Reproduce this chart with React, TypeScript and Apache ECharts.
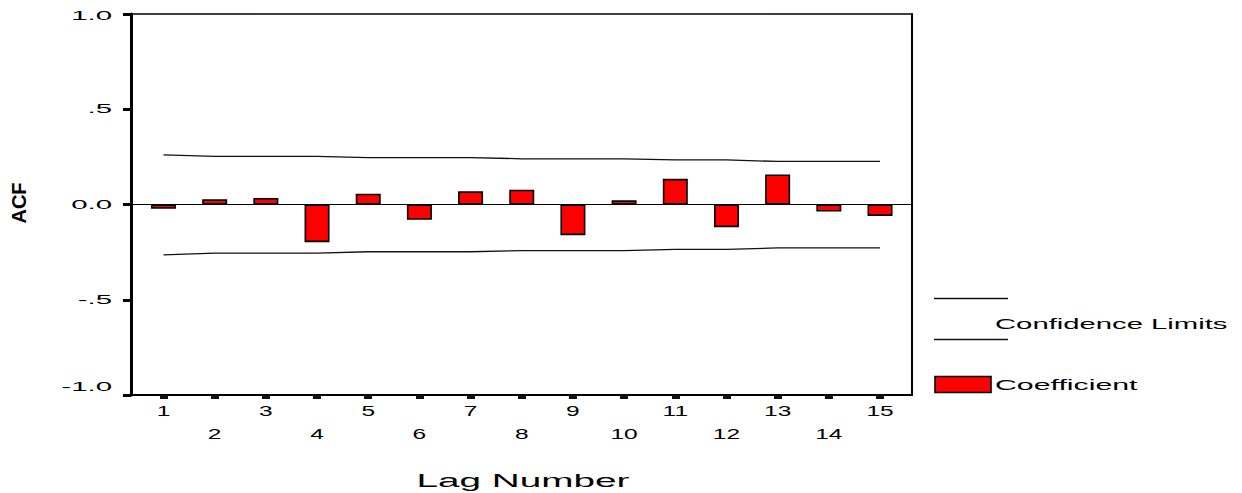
import React, { useEffect, useRef } from "react";
import * as echarts from "echarts";

const lags = [1, 2, 3, 4, 5, 6, 7, 8, 9, 10, 11, 12, 13, 14, 15];
const coefficients = [-0.022, 0.027, 0.034, -0.198, 0.057, -0.08, 0.069, 0.078, -0.161, 0.022, 0.135, -0.119, 0.158, -0.037, -0.06];
const upperLimits = [0.261, 0.253, 0.253, 0.253, 0.246, 0.246, 0.246, 0.24, 0.24, 0.24, 0.234, 0.234, 0.226, 0.226, 0.226];
const lowerLimits = [-0.264, -0.255, -0.255, -0.255, -0.248, -0.248, -0.248, -0.242, -0.242, -0.242, -0.236, -0.236, -0.228, -0.228, -0.228];
const yTickValues = [-1, -0.5, 0, 0.5, 1];
const yTickLabels = ["-1.0", "-.5", "0.0", ".5", "1.0"];
const xTickLabels = ["1", "2", "3", "4", "5", "6", "7", "8", "9", "10", "11", "12", "13", "14", "15"];
const yTitle = "ACF";
const xTitle = "Lag Number";
const legendLines = "Confidence Limits";
const legendBars = "Coefficient";

const FONT = "'Liberation Sans', Arial, Helvetica, sans-serif";
const X_MIN = 0.365;
const X_MAX = 15.625;

function txt(x: number, y: number, text: string, opts: any = {}) {
  const align = opts.align || "center";
  const va = opts.va || "middle";
  return {
    type: "text",
    x,
    y,
    scaleX: opts.scaleX || 1,
    scaleY: opts.scaleY || 1,
    rotation: opts.rotation || 0,
    silent: true,
    style: {
      text,
      x: 0,
      y: 0,
      fill: "#000",
      fontSize: opts.fontSize || 14,
      fontFamily: FONT,
      fontWeight: opts.fontWeight || "normal",
      align,
      textAlign: align,
      verticalAlign: va,
      textVerticalAlign: va,
    },
  };
}

export default function App() {
  const ref = useRef<HTMLDivElement>(null);

  useEffect(() => {
    document.body.style.margin = "0";
    const chart = echarts.init(ref.current as HTMLDivElement, null, { renderer: "svg" });

    const option: any = {
      animation: false,
      backgroundColor: "#fff",
      grid: { left: 131, top: 14, width: 781, height: 381, containLabel: false },
      xAxis: [
        {
          type: "value",
          min: X_MIN,
          max: X_MAX,
          position: "bottom",
          axisLine: { show: true, onZero: false, lineStyle: { color: "#000", width: 2 } },
          axisTick: {
            show: true,
            customValues: lags,
            length: 4,
            inside: false,
            lineStyle: { color: "#111", width: 8 },
          },
          axisLabel: { show: false },
          splitLine: { show: false },
        },
        {
          type: "value",
          min: X_MIN,
          max: X_MAX,
          position: "top",
          axisLine: { show: true, onZero: false, lineStyle: { color: "#000", width: 1.5 } },
          axisTick: { show: false },
          axisLabel: { show: false },
          splitLine: { show: false },
        },
      ],
      yAxis: [
        {
          type: "value",
          min: -1,
          max: 1,
          interval: 0.5,
          position: "left",
          axisLine: { show: true, onZero: false, lineStyle: { color: "#000", width: 3 } },
          axisTick: { show: true, length: 8, inside: false, lineStyle: { color: "#000", width: 3 } },
          axisLabel: { show: false },
          splitLine: { show: false },
        },
        {
          type: "value",
          min: -1,
          max: 1,
          position: "right",
          axisLine: { show: true, onZero: false, lineStyle: { color: "#000", width: 2 } },
          axisTick: { show: false },
          axisLabel: { show: false },
          splitLine: { show: false },
        },
      ],
      series: [
        {
          name: legendLines,
          type: "line",
          xAxisIndex: 0,
          yAxisIndex: 0,
          data: lags.map((l, i) => [l, upperLimits[i]]),
          symbol: "none",
          lineStyle: { color: "#111", width: 1.3 },
          silent: true,
        },
        {
          name: legendLines + " lower",
          type: "line",
          xAxisIndex: 0,
          yAxisIndex: 0,
          data: lags.map((l, i) => [l, lowerLimits[i]]),
          symbol: "none",
          lineStyle: { color: "#111", width: 1.3 },
          silent: true,
        },
        {
          name: legendBars,
          type: "bar",
          xAxisIndex: 0,
          yAxisIndex: 0,
          data: lags.map((l, i) => [l, coefficients[i]]),
          barWidth: 25,
          itemStyle: { color: "#ff0000", borderColor: "#000", borderWidth: 1.6 },
          silent: true,
          markLine: {
            silent: true,
            symbol: ["none", "none"],
            label: { show: false },
            lineStyle: { color: "#000", width: 1.2, type: "solid" },
            data: [{ yAxis: 0 }],
          },
        },
      ],
    };

    chart.setOption(option);

    const px = (v: number) => chart.convertToPixel({ xAxisIndex: 0 }, v) as number;
    const py = (v: number) => chart.convertToPixel({ yAxisIndex: 0 }, v) as number;

    const elements: any[] = [];

    // y tick labels
    yTickValues.forEach((v, i) => {
      const shift = v === -1 ? -8 : v === 1 ? 1.5 : 0;
      elements.push(txt(112, py(v) + shift, yTickLabels[i], { align: "right", fontSize: 12, scaleX: 2.45 }));
    });

    // x tick labels, staggered
    lags.forEach((l, i) => {
      const row = l % 2 === 1 ? 411 : 434;
      elements.push(txt(px(l), row, xTickLabels[i], { fontSize: 14, scaleX: 1.75 }));
    });

    // axis titles
    elements.push(txt(523, 481, xTitle, { fontSize: 18, scaleX: 2.15 }));
    elements.push(txt(19, 203, yTitle, { fontSize: 20, fontWeight: "bold", rotation: Math.PI / 2 }));

    // legend
    elements.push({
      type: "line",
      silent: true,
      shape: { x1: 934, y1: 298.5, x2: 1008, y2: 298.5 },
      style: { stroke: "#111", lineWidth: 1.3 },
    });
    elements.push({
      type: "line",
      silent: true,
      shape: { x1: 934, y1: 339.5, x2: 1008, y2: 339.5 },
      style: { stroke: "#111", lineWidth: 1.3 },
    });
    elements.push(txt(995, 324, legendLines, { align: "left", fontSize: 15, scaleX: 1.95 }));
    elements.push({
      type: "rect",
      silent: true,
      shape: { x: 935, y: 376.5, width: 56, height: 16 },
      style: { fill: "#ff0000", stroke: "#000", lineWidth: 1.6 },
    });
    elements.push(txt(995, 385, legendBars, { align: "left", fontSize: 15, scaleX: 2.02 }));

    chart.setOption({ graphic: elements });

    return () => chart.dispose();
  }, []);

  return <div ref={ref} style={{ width: 1242, height: 493 }} />;
}
